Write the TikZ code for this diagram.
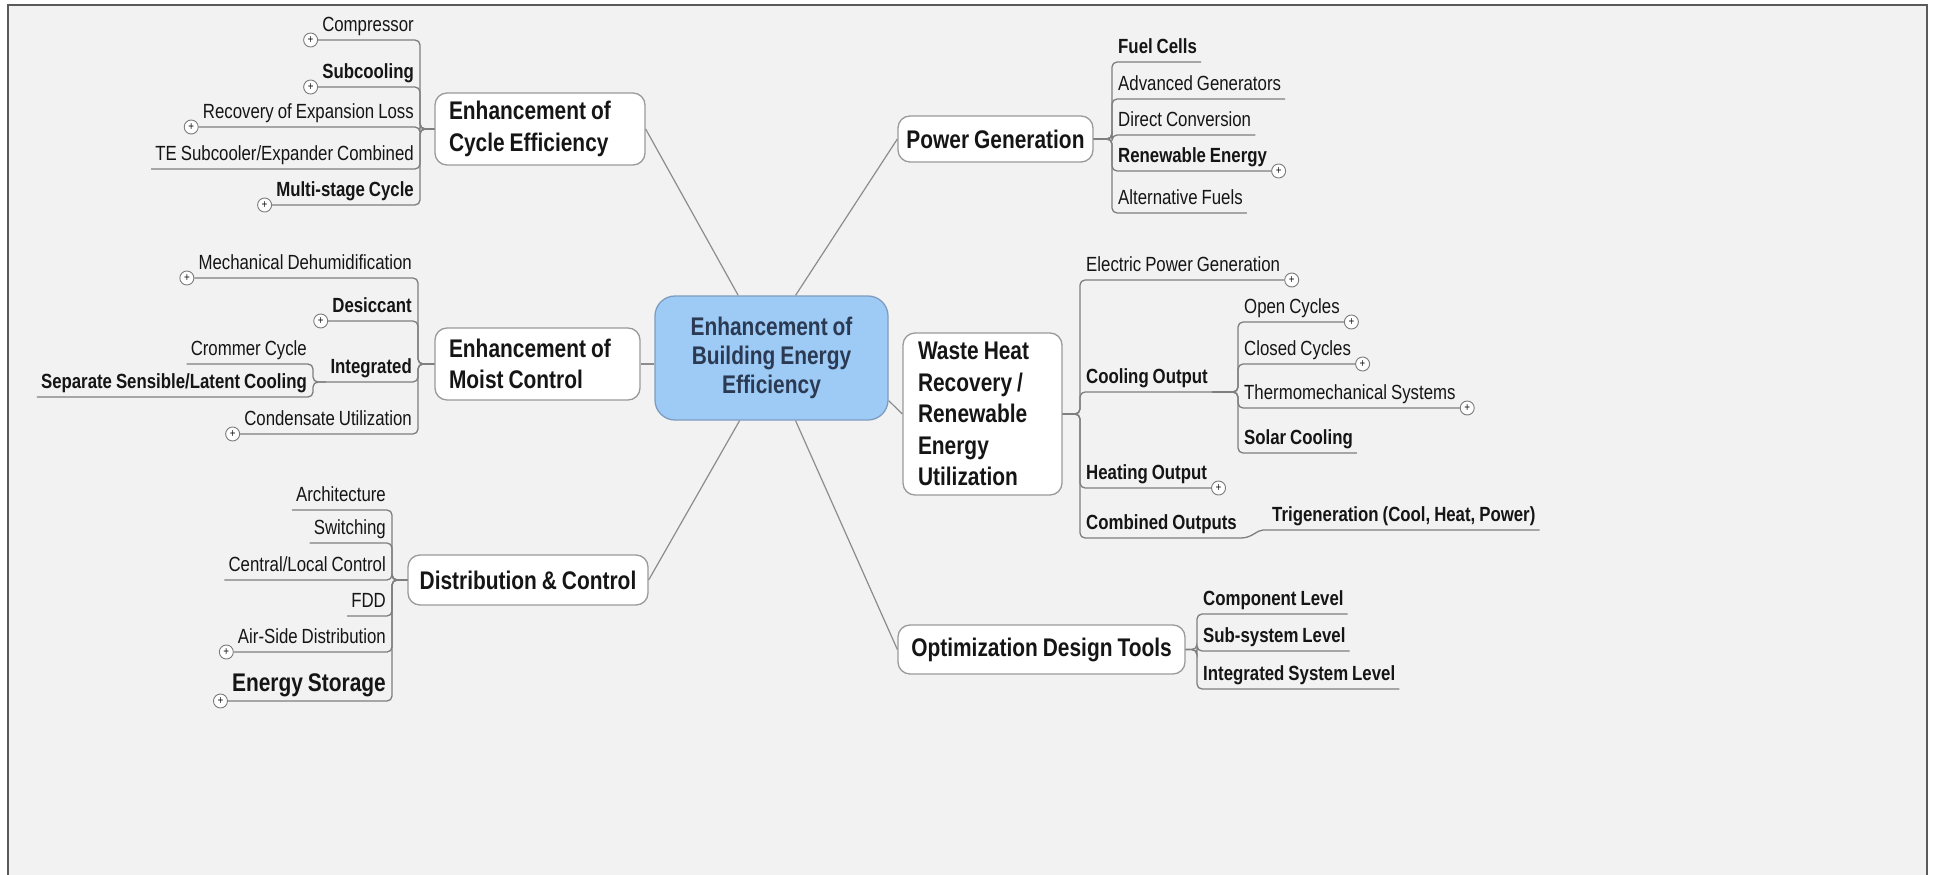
\documentclass[tikz,border=0pt]{standalone}
\usepackage{fontspec}
\setmainfont{Liberation Sans}[FakeStretch=0.82,WordSpace=0.85]
\newcommand\leaff{\fontsize{20.5}{24}\selectfont}
\newcommand\leafb{\fontsize{20.5}{24}\selectfont\bfseries}
\newcommand\mainf{\fontsize{25.5}{31.5}\selectfont\bfseries}
\newcommand\cenf{\fontsize{25.5}{29}\selectfont\bfseries}
\definecolor{bgc}{HTML}{F2F2F2}
\definecolor{framec}{HTML}{5A5A5A}
\definecolor{txt}{HTML}{151515}
\definecolor{boxb}{HTML}{9A9A9A}
\definecolor{brc}{HTML}{7E7E7E}
\definecolor{trc}{HTML}{8C8C8C}
\definecolor{cenfill}{HTML}{9DCBF6}
\definecolor{cenb}{HTML}{7D9CBF}
\definecolor{centxt}{HTML}{2B3A52}
\definecolor{plc}{HTML}{7A7A7A}
\tikzset{
  leaf/.style={font=\leaff, text=txt, inner xsep=4pt, inner ysep=4pt, text height=15pt, text depth=4pt},
  leafL/.style={leaf, anchor=south east},
  leafR/.style={leaf, anchor=south west},
  mainbox/.style={draw=boxb, fill=white, rounded corners=12pt, line width=1.3pt, font=\mainf, text=txt},
  br/.style={draw=brc, line width=1.3pt, rounded corners=5pt},
  trunk/.style={draw=trc, line width=1.2pt},
  plus/.style={circle, draw=plc, fill=white, line width=0.9pt, minimum size=14pt, inner sep=0pt, font=\fontsize{12}{12}\selectfont, text=txt},
}
\begin{document}
\begin{tikzpicture}[x=1pt,y=-1pt]
\useasboundingbox (0,0) rectangle (1933,875);
\fill[white] (0,0) rectangle (1933,875);
\fill[bgc] (8,5) rectangle (1927,875);
\draw[framec, line width=2pt] (8,880) -- (8,5) -- (1927,5) -- (1927,880);

% central node
\node[draw=cenb, fill=cenfill, line width=1.3pt, rounded corners=20pt, minimum width=233pt, minimum height=124pt, align=center, font=\cenf, text=centxt] (cen) at (771.5,358) {Enhancement of\\Building Energy\\Efficiency};

% main branches
\node[mainbox, text width=182pt, inner xsep=14pt, minimum height=72pt, align=flush left] (cyc) at (540,129) {Enhancement of\\Cycle Efficiency};
\node[mainbox, text width=177pt, inner xsep=14pt, minimum height=72pt, align=flush left] (moist) at (537.5,364) {Enhancement of\\Moist Control};
\node[mainbox, minimum width=240pt, minimum height=50pt] (dist) at (528,580) {Distribution \& Control};
\node[mainbox, minimum width=195pt, minimum height=46pt] (pow) at (995.5,139) {Power Generation};
\node[mainbox, text width=129pt, inner xsep=15pt, minimum height=162pt, align=flush left] (waste) at (982.5,414) {Waste Heat\\Recovery /\\Renewable\\Energy\\Utilization};
\node[mainbox, minimum width=287pt, minimum height=49pt] (opt) at (1041.5,649.5) {Optimization Design Tools};

% trunk connectors
\draw[trunk] (cen.118) -- (cyc.east);
\draw[trunk] (cen.69) -- (pow.west);
\draw[trunk] (moist.east) -- (moist.east -| cen.west);
\draw[trunk] (cen.243) -- (dist.east);
\draw[trunk] (cen.340) -- (waste.west);
\draw[trunk] (cen.291) -- (opt.west);

% ---- Cycle efficiency children
\coordinate (cycJ) at (420,129);
\node[leafL] (c1) at (418,40) {Compressor};
\node[leafL,font=\leafb] (c2) at (418,87) {Subcooling};
\node[leafL] (c3) at (418,127) {Recovery of Expansion Loss};
\node[leafL] (c4) at (418,169) {TE Subcooler/Expander Combined};
\node[leafL,font=\leafb] (c5) at (418,205) {Multi-stage Cycle};
\foreach \n in {c1,c2,c3,c4,c5}
  \draw[br] (\n.south west) -- (\n.south west -| cycJ) -- (cycJ) -- (cyc.west);
\foreach \n in {c1,c2,c3,c5}
  \node[plus, anchor=east] (\n p) at (\n.south west) {+};

% ---- Moist control children
\coordinate (moJ) at (418,364);
\node[leafL] (m1) at (416,278) {Mechanical Dehumidification};
\node[leafL,font=\leafb] (m2) at (416,321) {Desiccant};
\node[leafL,font=\leafb] (m3) at (416,382) {Integrated};
\node[leafL] (m4) at (416,434) {Condensate Utilization};
\foreach \n in {m1,m2,m3,m4}
  \draw[br] (\n.south west) -- (\n.south west -| moJ) -- (moJ) -- (moist.west);
\foreach \n in {m1,m2,m4}
  \node[plus, anchor=east] (\n p) at (\n.south west) {+};
\coordinate (inJ) at (313,382);
\node[leafL] (i1) at (311,364) {Crommer Cycle};
\node[leafL,font=\leafb] (i2) at (311,397) {Separate Sensible/Latent Cooling};
\foreach \n in {i1,i2}
  \draw[br] (\n.south west) -- (\n.south west -| inJ) -- (inJ) -- (m3.south west);

% ---- Distribution children
\coordinate (diJ) at (392,580);
\node[leafL] (d1) at (390,510) {Architecture};
\node[leafL] (d2) at (390,543) {Switching};
\node[leafL] (d3) at (390,580) {Central/Local Control};
\node[leafL] (d4) at (390,616) {FDD};
\node[leafL] (d5) at (390,652) {Air-Side Distribution};
\node[leafL,font=\mainf, text height=19pt, text depth=5pt] (d6) at (390,701) {Energy Storage};
\foreach \n in {d1,d2,d3,d4,d5,d6}
  \draw[br] (\n.south west) -- (\n.south west -| diJ) -- (diJ) -- (dist.west);
\foreach \n in {d5,d6}
  \node[plus, anchor=east] (\n p) at (\n.south west) {+};

% ---- Power generation children
\coordinate (poJ) at (1112,139);
\node[leafR,font=\leafb] (p1) at (1114,62) {Fuel Cells};
\node[leafR] (p2) at (1114,99) {Advanced Generators};
\node[leafR] (p3) at (1114,135) {Direct Conversion};
\node[leafR,font=\leafb] (p4) at (1114,171) {Renewable Energy};
\node[leafR] (p5) at (1114,213) {Alternative Fuels};
\foreach \n in {p1,p2,p3,p4,p5}
  \draw[br] (\n.south east) -- (\n.south west -| poJ) -- (poJ) -- (pow.east);
\node[plus, anchor=west] (p4p) at (p4.south east) {+};

% ---- Waste heat children
\coordinate (waJ) at (1080,414);
\node[leafR] (w1) at (1082,280) {Electric Power Generation};
\node[leafR,font=\leafb] (w2) at (1082,392) {Cooling Output};
\node[leafR,font=\leafb] (w3) at (1082,488) {Heating Output};
\node[leafR,font=\leafb] (w4) at (1082,538) {Combined Outputs};
\foreach \n in {w1,w2,w3,w4}
  \draw[br] (\n.south east) -- (\n.south west -| waJ) -- (waJ) -- (waste.east);
\foreach \n in {w1,w3}
  \node[plus, anchor=west] (\n p) at (\n.south east) {+};
\coordinate (coJ) at (1238,392);
\node[leafR] (o1) at (1240,322) {Open Cycles};
\node[leafR] (o2) at (1240,364) {Closed Cycles};
\node[leafR] (o3) at (1240,408) {Thermomechanical Systems};
\node[leafR,font=\leafb] (o4) at (1240,453) {Solar Cooling};
\foreach \n in {o1,o2,o3,o4}
  \draw[br] (\n.south east) -- (\n.south west -| coJ) -- (coJ) -- (w2.south east);
\foreach \n in {o1,o2,o3}
  \node[plus, anchor=west] (\n p) at (\n.south east) {+};
\node[leafR,font=\leafb] (t1) at (1268,530) {Trigeneration (Cool, Heat, Power)};
\draw[br] (w4.south east) to[out=0,in=180] (t1.south west) -- (t1.south east);

% ---- Optimization children
\coordinate (opJ) at (1197,649.5);
\node[leafR,font=\leafb] (q1) at (1199,614) {Component Level};
\node[leafR,font=\leafb] (q2) at (1199,651) {Sub-system Level};
\node[leafR,font=\leafb] (q3) at (1199,689) {Integrated System Level};
\foreach \n in {q1,q2,q3}
  \draw[br] (\n.south east) -- (\n.south west -| opJ) -- (opJ) -- (opt.east);
\end{tikzpicture}
\end{document}
